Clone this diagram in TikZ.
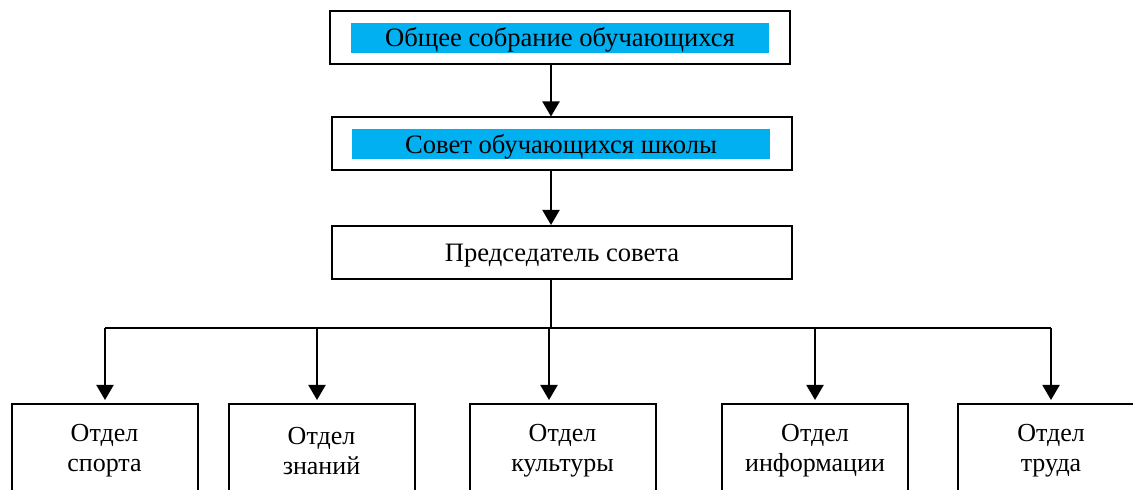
\documentclass[tikz,border=0pt]{standalone}
\usepackage{fontspec}
\setmainfont{Liberation Serif}
\usetikzlibrary{positioning,arrows.meta}
\definecolor{barblue}{RGB}{0,176,240}

\begin{document}
\begin{tikzpicture}[x=0.5pt,y=-0.5pt,
		  line width=1pt,
		  every node/.style={inner sep=0pt,font=\fontsize{13.3}{16}\selectfont},
		  topbox/.style={draw,minimum width=230pt,minimum height=26.5pt},
		  label box/.style={text height=11pt,text depth=2pt},
		  bar/.style={fill=barblue,minimum width=209pt,minimum height=15pt,label box},
		  dept/.style={draw,minimum width=93pt,minimum height=47pt,align=center,
		    font=\fontsize{13}{15}\selectfont},
		  arr/.style={-{Triangle[width=8.5pt,length=7.5pt]}}
		]
			\path[use as bounding box,clip] (0,0) rectangle (1133,490);

			% the upper boxes
			\node[bar] (bar1) at (560,38) {Общее собрание обучающихся};
			\node[topbox] (meet) at (559.5,38) {};
			\node[bar] (bar2) at (561,144.5) {Совет обучающихся школы};
			\node[topbox] (council) at (562,144) {};
			\node[topbox,label box] (chair) at (562,252.5) {Председатель совета};

			% the departments
			\foreach \i/\x/\txt in {1/104.5/{Отдел\\спорта},2/321.5/{Отдел\\знаний},
			    3/562.5/{Отдел\\культуры},4/815/{Отдел\\информации},5/1051/{Отдел\\труда}}
			  \node[dept] (d\i) at (\x,451) {\txt};

			% the edges
			\coordinate (ax) at (551,0);
			\draw[arr] (ax |- meet.south) -- (ax |- council.north);
			\draw[arr] (ax |- council.south) -- (ax |- chair.north);
			\foreach \i/\x in {1/105,2/317,3/549,4/815,5/1051} {
			  \coordinate (t\i) at (\x,328);
			  \draw[arr] (t\i) -- ([yshift=1.5pt]t\i |- d\i.north);
			}
			\draw (t1) -- (t5);
			\draw (ax |- chair.south) -- (ax |- t1);

		\end{tikzpicture}
\end{document}
